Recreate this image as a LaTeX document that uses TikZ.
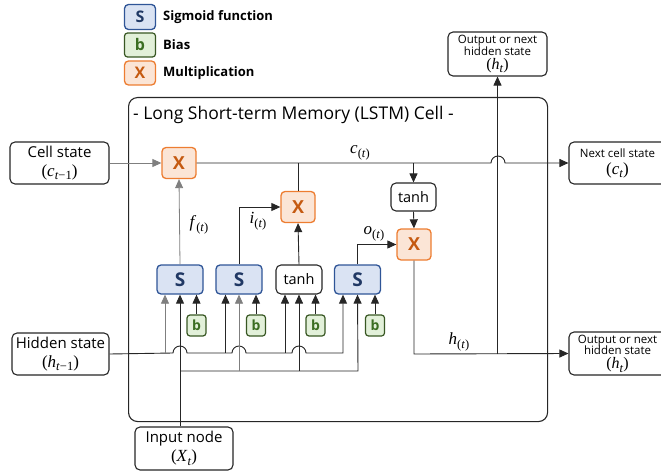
\documentclass[tikz,border=0pt]{standalone}
\usepackage{fontspec}
\setmainfont{Open Sans}
\newfontfamily\mfont{Liberation Serif}
\usetikzlibrary{arrows.meta,calc}
\definecolor{sfill}{HTML}{DAE3F3}
\definecolor{sdraw}{HTML}{2F5597}
\definecolor{stext}{HTML}{203864}
\definecolor{bfill}{HTML}{E2F0D9}
\definecolor{bdraw}{HTML}{385723}
\definecolor{btext}{HTML}{3B6E22}
\definecolor{xfill}{HTML}{FBE5D6}
\definecolor{xdraw}{HTML}{ED7D31}
\definecolor{xtext}{HTML}{C55A11}
\definecolor{wiregray}{HTML}{7F7F7F}
\newcommand{\fs}[2]{\fontsize{#1}{#2}\selectfont}
% italic variable with a lowered subscript, set in a serif face
\newcommand{\lowsub}[1]{\raisebox{-3.5pt}{\fs{12.5}{12.5}#1}}
\newcommand{\var}[2]{{\mfont\textit{#1}\lowsub{#2}}}
\newcommand{\pvar}[2]{{\mfont(\textit{#1}\lowsub{#2})}}
\begin{document}
\begin{tikzpicture}[x=1pt,y=-1pt,
  >={Triangle[length=9pt,width=8pt]},
  wire/.style={draw=black!85, line width=0.9pt},
  gwire/.style={draw=wiregray, line width=0.8pt},
  rbox/.style={draw=black!85, line width=1.1pt, rounded corners=5pt, fill=white, align=center, inner sep=0pt},
  sbox/.style={draw=sdraw, fill=sfill, line width=1.3pt, rounded corners=4pt, text=stext,
    font=\bfseries\fs{19}{19}, minimum width=46pt, minimum height=29pt, inner sep=0pt},
  xbox/.style={draw=xdraw, fill=xfill, line width=1.3pt, rounded corners=4pt, text=xtext,
    font=\bfseries\fs{18}{18}, minimum width=34pt, minimum height=31pt, inner sep=0pt},
  bbox/.style={draw=bdraw, fill=bfill, line width=1.2pt, rounded corners=3pt, text=btext,
    font=\bfseries\fs{14}{14}, minimum width=19pt, minimum height=21pt, inner sep=0pt},
  tbox/.style={rbox, font=\fs{14.5}{14.5}, minimum width=46pt, minimum height=29pt},
  legtext/.style={anchor=west, font=\bfseries\fs{13}{13}, inner sep=0pt},
  lbl/.style={font=\fs{17}{17}, inner sep=0pt},
  termbox/.style={rbox, font=\fs{15}{19}},
  outbox/.style={rbox, font=\fs{11.5}{11.5}}
]
\useasboundingbox (0,0) rectangle (661,473);

% legend
\node[sbox, minimum width=31pt, minimum height=25pt, font=\bfseries\fs{16}{16}] (legs) at (140,17) {S};
\node[legtext] (legst) at (163,17) {Sigmoid function};
\node[bbox, minimum width=31pt, minimum height=24pt, font=\bfseries\fs{16}{16}] (legb) at (140,45) {b};
\node[legtext] (legbt) at (163,45) {Bias};
\node[xbox, minimum width=31pt, minimum height=24pt, font=\bfseries\fs{16}{16}] (legx) at (140,73) {X};
\node[legtext] (legxt) at (163,73) {Multiplication};

% LSTM cell frame
\node[draw=black!85, line width=1.1pt, rounded corners=9pt, minimum width=419pt, minimum height=324pt,
  anchor=north west, inner sep=0pt] (cell) at (128,97) {};
\node[anchor=west, font=\fs{17.5}{17.5}, inner sep=0pt] (title) at (133,115) {- Long Short-term Memory (LSTM) Cell -};

% outside terminals
\node[termbox, minimum width=99pt, minimum height=42pt] (cs) at (59.5,163) {Cell state\\{\fs{17}{17}\pvar{c}{\textit{t}−1}}};
\node[termbox, minimum width=97pt, minimum height=42pt] (hid) at (60.5,354) {Hidden state\\{\fs{17}{17}\pvar{h}{\textit{t}−1}}};
\node[termbox, minimum width=98pt, minimum height=43pt] (inp) at (184,448.5) {Input node\\{\fs{17}{17}\pvar{X}{\textit{t}}}};
\node[rbox, minimum width=97pt, minimum height=42pt, font=\fs{11.5}{17}] (ncs) at (617.5,163) {Next cell state\\{\fs{17}{17}\pvar{c}{\textit{t}}}};
\node[outbox, minimum width=99pt, minimum height=44pt] (outtop) at (497.5,54) {Output or next\\hidden state\\[2.5pt]{\fs{16}{16}\pvar{h}{\textit{t}}}};
\node[outbox, minimum width=97pt, minimum height=43pt] (outbot) at (617.5,353.5) {Output or next\\hidden state\\[2.5pt]{\fs{16}{16}\pvar{h}{\textit{t}}}};

% multiplications and cell tanh
\node[xbox] (x1) at (179,163) {X};
\node[xbox] (x2) at (298,207) {X};
\node[tbox, minimum width=45pt, minimum height=28pt] (tc) at (413.5,197) {tanh};
\node[xbox] (x3) at (414,244.5) {X};

% gates
\node[sbox] (s1) at (180,279.5) {S};
\node[sbox] (s2) at (239,279.5) {S};
\node[tbox] (tg) at (299,279.5) {tanh};
\node[sbox] (s3) at (357.5,279.5) {S};

% biases
\node[bbox] (b1) at (196.5,325.5) {b};
\node[bbox] (b2) at (256,325.5) {b};
\node[bbox] (b3) at (315.5,325.5) {b};
\node[bbox] (b4) at (375,325.5) {b};

% junction points of the wiring
\coordinate (hj1) at (165,353);
\coordinate (hj2) at (225.5,353);
\coordinate (hj3) at (285,353);
\coordinate (hj4) at (343,353);
\coordinate (ij1) at (180,371);
\coordinate (ij2) at (239,371);
\coordinate (ij3) at (299,371);
\coordinate (ij4) at (358,371);
\coordinate (hout) at (414,354);

% cell state path
\draw[gwire,->] (cs.east) -- (x1.west);
\draw[wire,->] (x1.east) -- (491,163) arc (180:360:7) -- (ncs.west);
\draw[wire] (x2.north |- x1.east) -- (x2.north);
\draw[wire,->] (tc.north |- x1.east) -- (tc.north);
\draw[wire,->] (tc.south) -- (x3.north);

% gate outputs
\draw[gwire,->] (s1.north) -- (x1.south);
\draw[wire,->] (s2.north) |- (x2.west);
\draw[wire,->] (tg.north) -- (x2.south);
\draw[wire,->] (s3.north) |- (x3.west);

% hidden output
\draw[wire,->] (x3.south) -- (hout) -- (outbot.west);
\draw[wire,->] (outtop.south |- hout) -- (outtop.south);

% hidden state bus with hops over the input lines
\draw[wire,->] (hid.east) -- (173,353) arc (180:360:7) -- (232,353) arc (180:360:7)
  -- (292,353) arc (180:360:7) -- (hj4) -- (hj4 |- s3.south);
\draw[gwire,->] (hj1) -- (hj1 |- s1.south);
\draw[wire,->] (hj2) -- (hj2 |- s2.south);
\draw[wire,->] (hj3) -- (hj3 |- tg.south);

% input bus
\draw[wire,->] (inp.north -| s1.south) -- (s1.south);
\draw[wire,->] (ij1) -- (ij4) -- (s3.south);
\draw[gwire,->] (ij2) -- (s2.south);
\draw[wire,->] (ij3) -- (tg.south);

% biases into gates
\draw[wire,->] (b1.north) -- (b1.north |- s1.south);
\draw[wire,->] (b2.north) -- (b2.north |- s2.south);
\draw[wire,->] (b3.north) -- (b3.north |- tg.south);
\draw[wire,->] (b4.north) -- (b4.north |- s3.south);

% signal labels
\node[lbl] (lc) at (360,153) {\var{c}{(\textit{t})}};
\node[lbl] (lf) at (199,225) {\var{f}{(\textit{t})}};
\node[lbl] (li) at (258,221) {\var{i}{(\textit{t})}};
\node[lbl] (lo) at (374,234) {\var{o}{(\textit{t})}};
\node[lbl] (lh) at (459,342) {\var{h}{(\textit{t})}};
\end{tikzpicture}
\end{document}
